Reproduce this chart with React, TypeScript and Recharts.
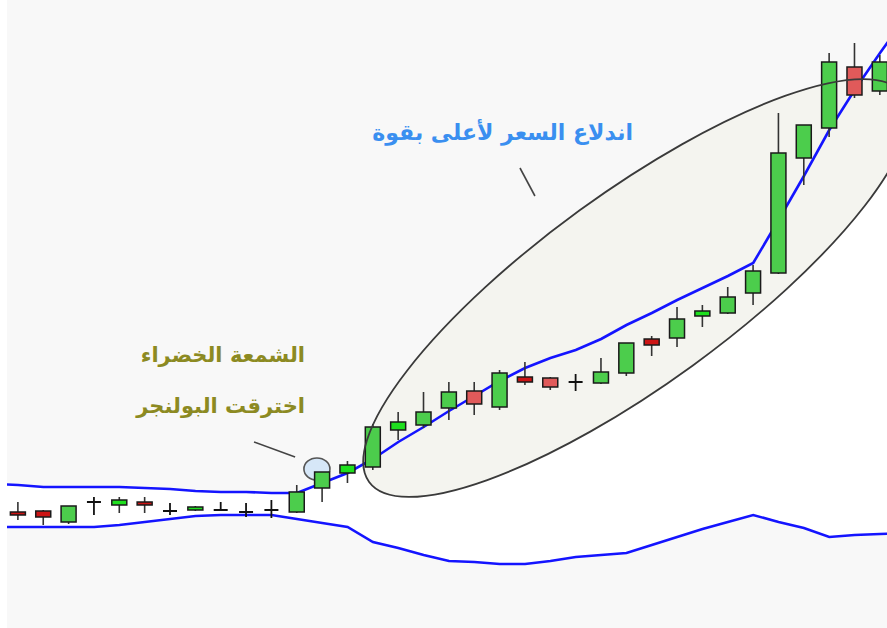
import React from "react";
import { ComposedChart, Bar, Line, Area, XAxis, YAxis } from "recharts";

// ---- data (price units; 37 sessions, first and last only carry the bands) ----
const sessions = [0,1,2,3,4,5,6,7,8,9,10,11,12,13,14,15,16,17,18,19,20,21,22,23,24,25,26,27,28,29,30,31,32,33,34,35,36];
const opens  = [null,116,117,106,126,123,126,117,118,118,116,118,116,140,155,161,198,203,220,237,221,251,250,246,245,255,289,290,312,315,335,355,470,500,561,537,null];
const highs  = [null,126,118,122,131,131,131,125,122,126,125,128,143,156,167,204,216,236,246,246,258,266,251,254,270,285,292,321,323,341,363,515,503,575,585,573,null];
const lows   = [null,108,103,104,113,115,115,113,117,118,111,110,115,126,145,158,188,200,208,213,218,243,238,237,244,252,272,281,301,314,323,354,443,491,530,533,null];
const closes = [null,113,111,122,126,128,123,117,121,118,116,118,136,156,163,201,206,216,236,224,255,246,241,246,256,285,283,309,317,331,357,475,503,566,533,566,null];
const upperBand = [144,143,141,141,141,141,140,139,137,136,136,135,135,145,155,169,186,201,217,232,247,260,270,278,289,303,315,328,340,352,365,408,452,498,538,575,610];
const lowerBand = [101,101,101,101,101,103,106,109,112,113,113,113,109,105,101,86,80,73,67,66,64,64,67,71,73,75,83,91,99,106,113,106,100,91,93,94,95];

const labelGreen1 = "الشمعة الخضراء";
const labelGreen2 = "اخترقت البولنجر";
const labelBreakout = "اندلاع السعر لأعلى بقوة";

// annotation anchors in data space (session index, price)
const ellipseAnchor = { i: 25.38, p: 340 };
const circleAnchor = { i: 12.79, p: 159 };
const pointer1 = [{ i: 10.31, p: 186 }, { i: 11.93, p: 171 }];
const pointer2 = [{ i: 20.8, p: 460 }, { i: 21.39, p: 432 }];

const data = sessions.map((s, k) => ({
  s,
  o: opens[k],
  h: highs[k],
  l: lows[k],
  c: closes[k],
  up: upperBand[k],
  lo: lowerBand[k],
}));

const CW = 938;
const CH = 628;
const BAND = CW / sessions.length;
const xOf = (i: number) => BAND * (i + 0.5);
const yOf = (p: number) => CH - p;

function Candle(props: any) {
  const { x, y, width, height, payload } = props;
  if (!payload || payload.h == null) return null;
  const { o, h, l, c } = payload;
  const top = Math.min(y, y + height);
  const hh = Math.abs(height);
  const py = (v: number) => top + ((h - v) / (h - l)) * hh;
  const cx = x + width / 2;
  const bw = 15;
  if (o === c) {
    return (
      <g>
        <line x1={cx} x2={cx} y1={py(h)} y2={py(l)} stroke="#111" strokeWidth={1.8} />
        <line x1={cx - 7} x2={cx + 7} y1={py(o)} y2={py(o)} stroke="#111" strokeWidth={2} />
      </g>
    );
  }
  const bTop = py(Math.max(o, c));
  const bBot = py(Math.min(o, c));
  const bh = Math.max(bBot - bTop, 2);
  const up = c > o;
  const fill = up ? (bh < 9 ? "#1ee01e" : "#4ccd4c") : bh < 7 ? "#cc1414" : "#e05a5a";
  return (
    <g>
      <line x1={cx} x2={cx} y1={py(h)} y2={py(l)} stroke="#333" strokeWidth={1.6} />
      <rect x={cx - bw / 2} y={bTop} width={bw} height={bh} fill={fill} stroke="#1a1a1a" strokeWidth={1.5} />
    </g>
  );
}

const textBase: React.CSSProperties = {
  position: "absolute",
  textAlign: "right",
  fontFamily: "DejaVu Sans, sans-serif",
  fontWeight: "bold",
  fontSize: 21,
  lineHeight: "28px",
  whiteSpace: "nowrap",
};

const ELL_RX = 330;
const ELL_RY = 96;
const ELL_ROT = -36;
const ELL_FILL = "#f4f4ef";

export default function App() {
  const ex = xOf(ellipseAnchor.i);
  const ey = yOf(ellipseAnchor.p);
  const cx = xOf(circleAnchor.i);
  const cy = yOf(circleAnchor.p);
  const ellipseFill = (
    <ellipse cx={ex} cy={ey} rx={ELL_RX} ry={ELL_RY} transform={`rotate(${ELL_ROT} ${ex} ${ey})`} fill={ELL_FILL} stroke="none" />
  );
  return (
    <div style={{ position: "fixed", left: 0, top: 0, width: 887, height: 628, background: "#ffffff", overflow: "hidden" }}>
      <svg width={0} height={0} style={{ position: "absolute" }}>
        <defs>
          <pattern id="bandFill" patternUnits="userSpaceOnUse" x={0} y={0} width={CW} height={CH}>
            <rect x={0} y={0} width={CW} height={CH} fill="#ffffff" />
            {ellipseFill}
          </pattern>
        </defs>
      </svg>
      <div style={{ position: "absolute", left: 7, top: 0, width: 880, height: 628, overflow: "hidden", background: "#f8f8f8" }}>
        <div style={{ position: "absolute", left: -27, top: 0, width: CW, height: CH }}>
          <svg width={CW} height={CH} style={{ position: "absolute", left: 0, top: 0 }}>
            {ellipseFill}
            <ellipse cx={cx} cy={cy} rx={13} ry={11} fill="#d6e7f8" stroke="#555" strokeWidth={1.6} />
          </svg>
          <div style={{ position: "absolute", left: 0, top: 0 }}>
            <ComposedChart width={CW} height={CH} data={data} margin={{ top: 0, right: 0, bottom: 0, left: 0 }}>
              <XAxis dataKey="s" type="category" hide />
              <YAxis type="number" domain={[0, 628]} hide allowDataOverflow />
              <Area
                dataKey={(d: any) => [d.lo, d.up]}
                type="linear"
                fill="url(#bandFill)"
                fillOpacity={1}
                stroke="none"
                isAnimationActive={false}
              />
              <Line dataKey="up" type="linear" stroke="#1414ff" strokeWidth={2.6} dot={false} isAnimationActive={false} />
              <Line dataKey="lo" type="linear" stroke="#1414ff" strokeWidth={2.6} dot={false} isAnimationActive={false} />
              <Bar
                {...({ zIndex: 450 } as any)}
                dataKey={(d: any) => (d.h == null ? null : [d.l, d.h])}
                shape={(p: any) => <Candle {...p} />}
                isAnimationActive={false}
              />
            </ComposedChart>
          </div>
          <svg width={CW} height={CH} style={{ position: "absolute", left: 0, top: 0, pointerEvents: "none" }}>
            <ellipse
              cx={ex}
              cy={ey}
              rx={ELL_RX}
              ry={ELL_RY}
              transform={`rotate(${ELL_ROT} ${ex} ${ey})`}
              fill="none"
              stroke="#3a3a3a"
              strokeWidth={1.8}
            />
            <line x1={xOf(pointer1[0].i)} y1={yOf(pointer1[0].p)} x2={xOf(pointer1[1].i)} y2={yOf(pointer1[1].p)} stroke="#444" strokeWidth={1.6} />
            <line x1={xOf(pointer2[0].i)} y1={yOf(pointer2[0].p)} x2={xOf(pointer2[1].i)} y2={yOf(pointer2[1].p)} stroke="#444" strokeWidth={1.6} />
          </svg>
        </div>
      </div>
      <div dir="rtl" style={{ ...textBase, right: 887 - 305, top: 341, color: "#8c8a22" }}>
        {labelGreen1}
      </div>
      <div dir="rtl" style={{ ...textBase, right: 887 - 305, top: 392, color: "#8c8a22" }}>
        {labelGreen2}
      </div>
      <div dir="rtl" style={{ ...textBase, right: 887 - 633, top: 119, fontSize: 22, color: "#3a8ff0" }}>
        {labelBreakout}
      </div>
    </div>
  );
}
